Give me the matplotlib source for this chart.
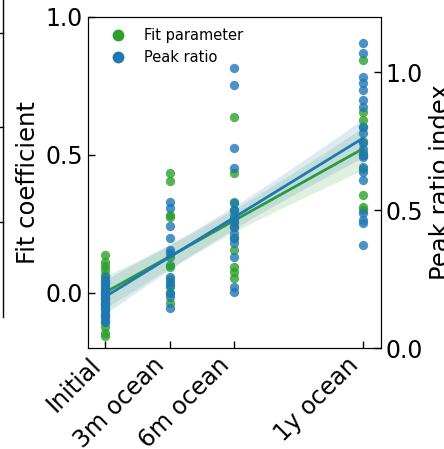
import numpy as np
import matplotlib
matplotlib.use("Agg")
import matplotlib.pyplot as plt
from matplotlib.lines import Line2D

categories = ["Initial", "3m ocean", "6m ocean", "1y ocean"]
months = [0, 3, 6, 12]

fit_initial = [0.138, 0.112, 0.098, 0.083, 0.065, 0.04, 0.02, 0.0, -0.02, -0.04,
               -0.06, -0.08, -0.105, -0.123, -0.145, -0.156]
fit_3m = [0.435, 0.406, 0.283, 0.275, 0.13, 0.10, 0.094, 0.0, -0.036, 0.02, 0.05]
fit_6m = [0.638, 0.435, 0.30, 0.283, 0.239, 0.156, 0.094, 0.076, 0.054, 0.2, 0.26, 0.33]
fit_1y = [0.844, 0.656, 0.627, 0.507, 0.355, 0.312, 0.30, 0.55, 0.6, 0.45, 0.5]

peak_initial = [0.257, 0.245, 0.235, 0.225, 0.215, 0.205, 0.195, 0.185, 0.175, 0.165,
                0.155, 0.145, 0.135, 0.125, 0.115, 0.105, 0.094, 0.2, 0.18, 0.16]
peak_3m = [0.529, 0.507, 0.442, 0.399, 0.355, 0.344, 0.257, 0.239, 0.228, 0.199, 0.185, 0.145]
peak_6m = [1.014, 0.953, 0.725, 0.652, 0.525, 0.457, 0.417, 0.399, 0.38, 0.33, 0.22, 0.203,
           0.47, 0.5, 0.44]
peak_1y = [1.105, 1.069, 0.982, 0.96, 0.935, 0.899, 0.873, 0.779, 0.743, 0.692, 0.656,
           0.638, 0.609, 0.489, 0.464, 0.453, 0.373, 0.8, 0.72, 0.7]

GREEN = "#2ca02c"
BLUE = "#1f77b4"

plt.rcParams["font.family"] = ["DejaVu Sans"]
plt.rcParams["font.size"] = 17

fig = plt.figure(figsize=(4.44, 4.49), dpi=100)
ax = fig.add_axes([88/444, 1-348/449, (381-88)/444, (348-17)/449])
ax2 = ax.twinx()


def flatten(groups):
    xs, ys = [], []
    for m, g in zip(months, groups):
        xs += [m] * len(g)
        ys += list(g)
    return np.array(xs, float), np.array(ys, float)


def regdraw(a, groups, color, z):
    x, y = flatten(groups)
    a.scatter(x, y, s=45, color=color, alpha=0.8, linewidths=0, zorder=z)
    b, c = np.polyfit(x, y, 1)
    xx = np.linspace(x.min(), x.max(), 100)
    yy = b * xx + c
    n = len(x)
    resid = y - (b * x + c)
    s = np.sqrt(np.sum(resid ** 2) / (n - 2))
    se = s * np.sqrt(1 / n + (xx - x.mean()) ** 2 / np.sum((x - x.mean()) ** 2))
    t = 1.99
    a.fill_between(xx, yy - t * se, yy + t * se, color=color, alpha=0.15, linewidth=0, zorder=z + 1)
    a.plot(xx, yy, color=color, lw=2, zorder=z + 2)


regdraw(ax, [fit_initial, fit_3m, fit_6m, fit_1y], GREEN, 2)
regdraw(ax2, [peak_initial, peak_3m, peak_6m, peak_1y], BLUE, 2)

ax.set_xlim(-0.8, 12.85)
ax.set_ylim(-0.2, 1.0)
ax2.set_ylim(0.0, 1.2)
ax.set_yticks([0.0, 0.5, 1.0])
ax2.set_yticks([0.0, 0.5, 1.0])
ax.set_xticks(months)
ax.set_xticklabels(categories, rotation=45, ha="right")
ax.set_ylabel("Fit coefficient", fontsize=17.5)
ax2.set_ylabel("Peak ratio index", fontsize=17.5)
for a in (ax, ax2):
    a.tick_params(direction="in", length=5, width=1, labelsize=17)

handles = [
    Line2D([], [], marker="o", ls="", color=GREEN, markersize=7.5, label="Fit parameter"),
    Line2D([], [], marker="o", ls="", color=BLUE, markersize=7.5, label="Peak ratio"),
]
ax2.legend(handles=handles, loc="upper left", bbox_to_anchor=(0.033, 0.985),
           frameon=False, fontsize=10.5, handletextpad=0.8, borderaxespad=0)

# remnant of neighbouring panel on the left edge
fig.add_artist(Line2D([3/444, 3/444], [1, 1-317/449], color="black", lw=1))
for yp in [33, 127, 222]:
    fig.add_artist(Line2D([0, 3/444], [1-yp/449, 1-yp/449], color="black", lw=1))

fig.savefig("out.png", dpi=100)
